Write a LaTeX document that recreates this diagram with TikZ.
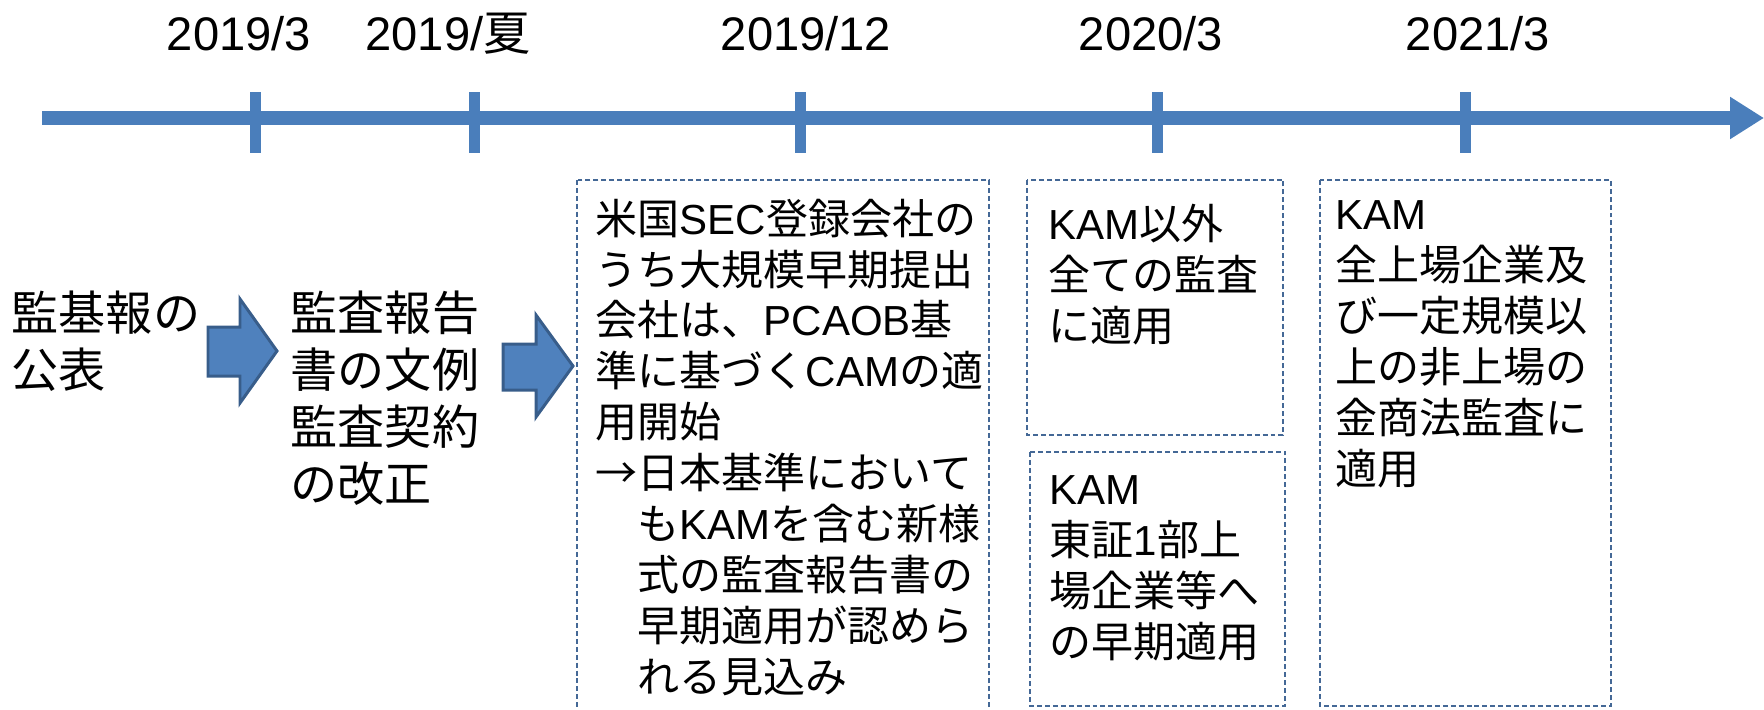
\documentclass[tikz,border=0pt]{standalone}
\usepackage{fontspec}
\setmainfont{Noto Sans CJK JP}
\newfontfamily\arialfont{Liberation Sans}
\newcommand{\en}[1]{{\arialfont #1}}
\usetikzlibrary{arrows.meta}
\definecolor{axisblue}{RGB}{74,126,187}
\definecolor{arrowfill}{RGB}{79,129,189}
\definecolor{arrowline}{RGB}{56,93,138}
\definecolor{boxline}{RGB}{68,104,150}

\begin{document}
\begin{tikzpicture}[x=0.01cm,y=-0.01cm,
  timeline/.style={axisblue,line width=3.7pt},
  tickline/.style={axisblue,line width=3.1pt},
  datelabel/.style={anchor=base,inner sep=0,font=\fontsize{13.4}{16}\selectfont\arialfont},
  bigtext/.style={anchor=north west,inner sep=0,align=left,font=\fontsize{13.4}{16.2}\selectfont},
  boxtext/.style={anchor=north west,inner sep=0,align=left,font=\fontsize{11.95}{14.5}\selectfont},
  dashbox/.style={boxline,line width=0.55pt,dash pattern=on 1.4pt off 0.85pt},
  blockarrow/.style={fill=arrowfill,draw=arrowline,line width=0.85pt}]
  \clip (0,0) rectangle (1764,709);
  \coordinate (t0) at (42,118);
  \coordinate (tend) at (1764,118);
  \draw[timeline,-{Triangle[length=0.34cm,width=0.4cm]}] (t0) -- (tend);
  \foreach \x in {255.5,474.5,800.5,1157.5,1465.5}
    \draw[tickline] (\x,92) -- (\x,153);
  \node[datelabel] (d1) at (239,50) {2019/3};
  \node[datelabel] (d2) at (448,50) {2019/{\rmfamily 夏}};
  \node[datelabel] (d3) at (806,50) {2019/12};
  \node[datelabel] (d4) at (1151,50) {2020/3};
  \node[datelabel] (d5) at (1478,50) {2021/3};

  \node[bigtext] (pub) at (11,290) {監基報の\\公表};
  \draw[blockarrow] (208,327) -- (240,327) -- (240,299) -- (277,351) -- (240,403) -- (240,376) -- (208,376) -- cycle;
  \node[bigtext] (rev) at (290,290) {監査報告\\書の文例\\監査契約\\の改正};
  \draw[blockarrow] (503,344) -- (536,344) -- (536,315) -- (573,366) -- (536,417) -- (536,390) -- (503,390) -- cycle;

  \draw[dashbox] (577,180) rectangle (989,740);
  \node[boxtext] (sec) at (595,198) {米国\en{SEC}登録会社の\\うち大規模早期提出\\会社は、\en{PCAOB}基\\準に基づく\en{CAM}の適\\用開始\\→日本基準において\\\hspace*{1em}も\en{KAM}を含む新様\\\hspace*{1em}式の監査報告書の\\\hspace*{1em}早期適用が認めら\\\hspace*{1em}れる見込み};

  \draw[dashbox] (1027,180) rectangle (1283,435);
  \node[boxtext] (kam20) at (1048,203) {\en{KAM}以外\\全ての監査\\に適用};
  \draw[dashbox] (1030,452) rectangle (1285,706);
  \node[boxtext] (early) at (1049,475) {\en{KAM}\\東証\en{1}部上\\場企業等へ\\の早期適用};

  \draw[dashbox] (1320,180) rectangle (1611,706);
  \node[boxtext] (kam21) at (1335,200) {\en{KAM}\\全上場企業及\\び一定規模以\\上の非上場の\\金商法監査に\\適用};
\end{tikzpicture}
\end{document}
